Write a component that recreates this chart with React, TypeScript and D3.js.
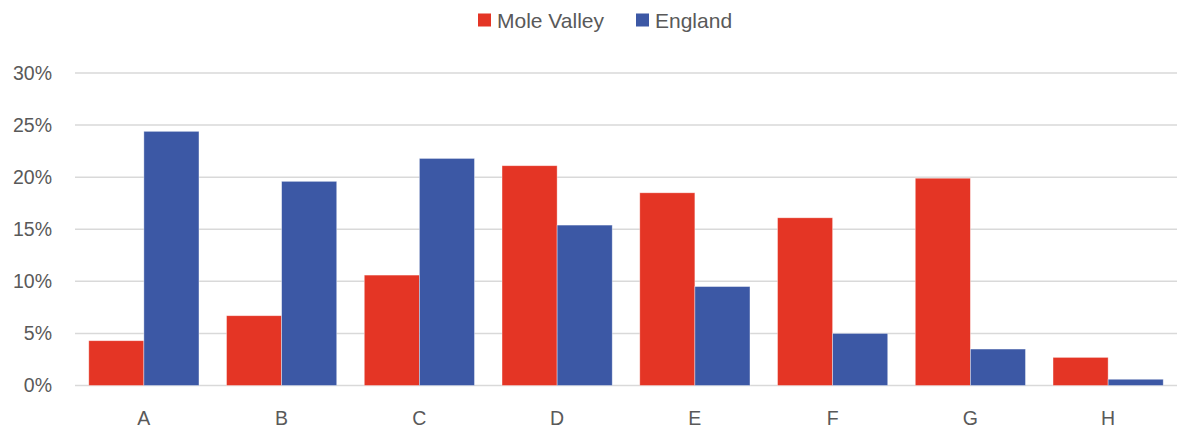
import React from "react";
import * as d3 from "d3";

const categories = ["A", "B", "C", "D", "E", "F", "G", "H"];
const seriesNames = ["Mole Valley", "England"];
const moleValley = [4.3, 6.7, 10.6, 21.1, 18.5, 16.1, 19.9, 2.7];
const england = [24.4, 19.6, 21.8, 15.4, 9.5, 5.0, 3.5, 0.6];
const yTicks = [0, 5, 10, 15, 20, 25, 30];
const colors = ["#E43525", "#3C58A5"];

const W = 1178;
const H = 428;
const left = 75;
const right = 1177;
const top = 73;
const bottom = 385.5;
const font = "'Liberation Sans', Arial, sans-serif";
const textColor = "#595959";

export default function App() {
  const x0 = d3.scaleBand<string>().domain(categories).range([left, right]).paddingInner(0).paddingOuter(0);
  const x1 = d3
    .scaleBand<string>()
    .domain(seriesNames)
    .range([0, x0.step()])
    .paddingInner(0)
    .paddingOuter(0.25);
  const y = d3.scaleLinear().domain([0, 30]).range([bottom, top]);
  const data = [moleValley, england];

  return (
    <svg width={W} height={H} style={{ display: "block", position: "absolute", left: 0, top: 0 }}>
      <rect width={W} height={H} fill="#fff" />
      {yTicks.map((t) => (
        <g key={t}>
          <line x1={left} x2={right} y1={y(t)} y2={y(t)} stroke="#D9D9D9" strokeWidth={1.5} />
          <text
            x={52}
            y={y(t)}
            dy="0.35em"
            textAnchor="end"
            fontFamily={font}
            fontSize={19.5}
            fill={textColor}
          >
            {t + "%"}
          </text>
        </g>
      ))}
      {categories.map((c, i) => (
        <g key={c}>
          {seriesNames.map((s, k) => {
            const v = data[k][i];
            return (
              <rect
                key={s}
                x={(x0(c) as number) + (x1(s) as number)}
                y={y(v)}
                width={x1.bandwidth()}
                height={y(0) - y(v)}
                fill={colors[k]}
                stroke="#fff"
                strokeOpacity={0.5}
                strokeWidth={0.75}
              />
            );
          })}
          <text
            x={(x0(c) as number) + x0.bandwidth() / 2}
            y={425}
            textAnchor="middle"
            fontFamily={font}
            fontSize={19.5}
            fill={textColor}
          >
            {c}
          </text>
        </g>
      ))}
      <g>
        <rect x={478} y={13.5} width={13} height={13} fill={colors[0]} />
        <text x={497} y={27.5} fontFamily={font} fontSize={21} fill={textColor}>
          {seriesNames[0]}
        </text>
        <rect x={636} y={13.5} width={13} height={13} fill={colors[1]} />
        <text x={655} y={27.5} fontFamily={font} fontSize={21} fill={textColor}>
          {seriesNames[1]}
        </text>
      </g>
    </svg>
  );
}
